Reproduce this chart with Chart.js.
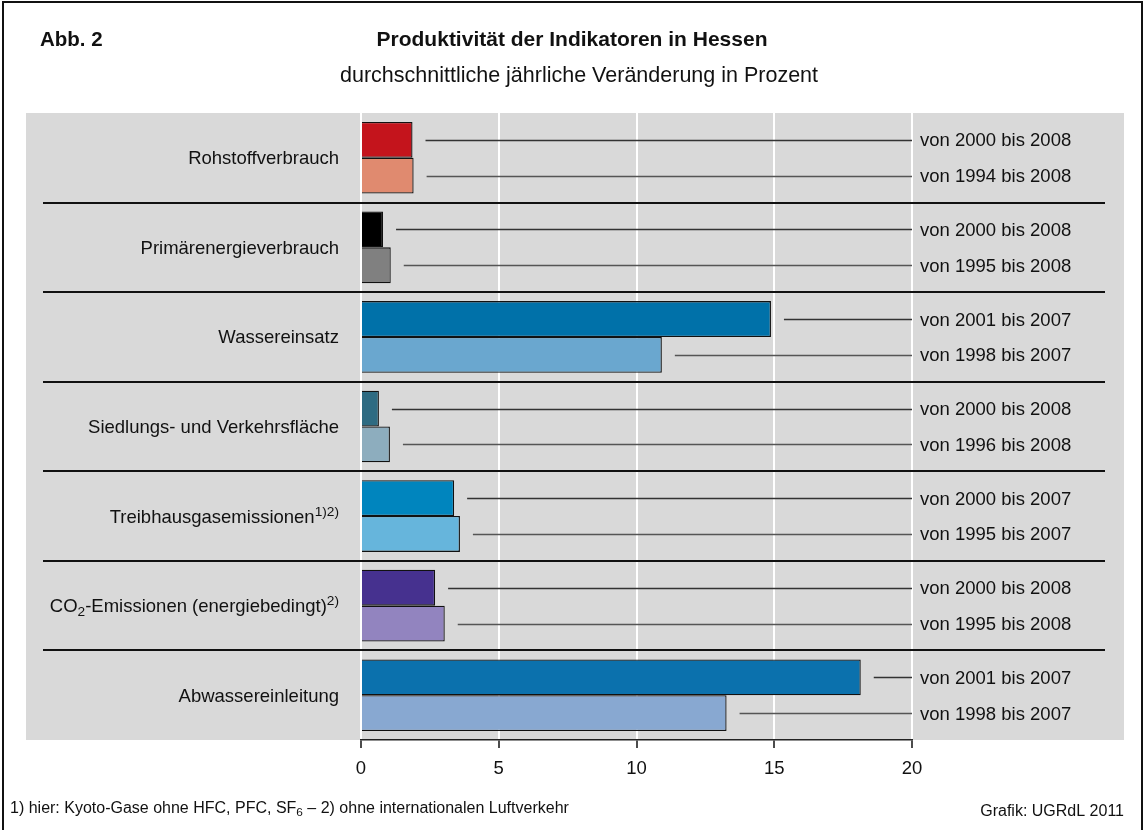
<!DOCTYPE html>
<html lang="de">
<head>
<meta charset="utf-8">
<title>Produktivität der Indikatoren in Hessen</title>
<script src="https://cdn.jsdelivr.net/npm/chart.js@4/dist/chart.umd.min.js"></script>
<style>
  html, body { margin: 0; padding: 0; background: #fff; }
  canvas { display: block; }
</style>
</head>
<body>
<canvas id="chart" width="1145" height="830"></canvas>
<script>
// Indicators; "_{..}" marks a subscript run, "^{..}" a superscript run.
const categories = [
  'Rohstoffverbrauch',
  'Primärenergieverbrauch',
  'Wassereinsatz',
  'Siedlungs- und Verkehrsfläche',
  'Treibhausgasemissionen^{1)2)}',
  'CO_{2}-Emissionen (energiebedingt)^{2)}',
  'Abwassereinleitung'
];

// Shorter (recent) period per indicator and its average yearly change in %
const periodsShort = [
  'von 2000 bis 2008', 'von 2000 bis 2008', 'von 2001 bis 2007', 'von 2000 bis 2008',
  'von 2000 bis 2007', 'von 2000 bis 2008', 'von 2001 bis 2007'
];
const valuesShort = [1.87, 0.80, 14.88, 0.65, 3.38, 2.69, 18.14];

// Longer period per indicator and its average yearly change in %
const periodsLong = [
  'von 1994 bis 2008', 'von 1995 bis 2008', 'von 1998 bis 2007', 'von 1996 bis 2008',
  'von 1995 bis 2007', 'von 1995 bis 2008', 'von 1998 bis 2007'
];
const valuesLong = [1.91, 1.08, 10.92, 1.05, 3.59, 3.04, 13.27];

const colorsShort = ['#C4141C', '#000000', '#0071A9', '#2E6B82', '#0085BE', '#46318F', '#0B71AD'];
const colorsLong  = ['#E08A6F', '#808080', '#6AA7CF', '#8DADBE', '#66B5DC', '#9284BF', '#88A8D1'];

const xTicks = [0, 5, 10, 15, 20];

const figureLabel = 'Abb. 2';
const titleText = 'Produktivität der Indikatoren in Hessen';
const subtitleText = 'durchschnittliche jährliche Veränderung in Prozent';
const footnoteText = '1) hier: Kyoto-Gase ohne HFC, PFC, SF_{6} – 2) ohne internationalen Luftverkehr';
const sourceText = 'Grafik: UGRdL 2011';

const FONT = '"Liberation Sans", Arial, Helvetica, sans-serif';

// Split text with _{..}/^{..} runs into segments
function parseRich(text) {
  const out = [];
  const re = /([_^])\{([^}]*)\}/g;
  let last = 0, m;
  while ((m = re.exec(text)) !== null) {
    if (m.index > last) out.push({ t: text.slice(last, m.index), k: 'n' });
    out.push({ t: m[2], k: m[1] === '_' ? 'sub' : 'sup' });
    last = re.lastIndex;
  }
  if (last < text.length) out.push({ t: text.slice(last), k: 'n' });
  return out;
}

function drawRich(ctx, text, x, baseline, size, align, weight) {
  const segs = parseRich(text);
  const small = size * 0.74;
  const fontFor = s => `${weight || 'normal'} ${s.k === 'n' ? size : small}px ${FONT}`;
  let total = 0;
  segs.forEach(s => { ctx.font = fontFor(s); s.w = ctx.measureText(s.t).width; total += s.w; });
  let cx = align === 'right' ? x - total : align === 'center' ? x - total / 2 : x;
  ctx.textAlign = 'left';
  ctx.textBaseline = 'alphabetic';
  segs.forEach(s => {
    ctx.font = fontFor(s);
    const dy = s.k === 'sup' ? -size * 0.36 : s.k === 'sub' ? size * 0.2 : 0;
    ctx.fillText(s.t, cx, baseline + dy);
    cx += s.w;
  });
}

const decorations = {
  id: 'decorations',
  beforeDraw(chart) {
    const { ctx, chartArea } = chart;
    ctx.save();
    // grey plotting panel
    ctx.fillStyle = '#D9D9D9';
    ctx.fillRect(26, chartArea.top, 1124 - 26, chartArea.bottom - chartArea.top);
    ctx.restore();
  },
  afterDraw(chart) {
    const { ctx } = chart;
    const xs = chart.scales.x;
    const ys = chart.scales.y;
    ctx.save();

    // outer frame
    ctx.strokeStyle = '#111';
    ctx.lineWidth = 2;
    ctx.strokeRect(3, 2, 1139, 900);

    // heading
    ctx.fillStyle = '#111';
    drawRich(ctx, figureLabel, 40, 46, 20.5, 'left', 'bold');
    drawRich(ctx, titleText, 572, 46, 21, 'center', 'bold');
    drawRich(ctx, subtitleText, 579, 82, 21.5, 'center');

    // group separators
    ctx.strokeStyle = '#111';
    ctx.lineWidth = 2;
    for (let i = 0; i < categories.length - 1; i++) {
      const y = Math.round((ys.getPixelForValue(i) + ys.getPixelForValue(i + 1)) / 2);
      ctx.beginPath();
      ctx.moveTo(43, y);
      ctx.lineTo(1105, y);
      ctx.stroke();
    }

    // indicator names
    ctx.fillStyle = '#111';
    categories.forEach((c, i) => {
      const yc = ys.getPixelForValue(i);
      drawRich(ctx, c, 339, yc + 6.5, 18.5, 'right');
    });

    // leader lines and period labels
    const sets = [
      { meta: chart.getDatasetMeta(0), labels: periodsShort, stroke: '#333' },
      { meta: chart.getDatasetMeta(1), labels: periodsLong, stroke: '#555' }
    ];
    sets.forEach(s => {
      s.meta.data.forEach((bar, i) => {
        const y = Math.round(bar.y) + 0.5;
        ctx.strokeStyle = s.stroke;
        ctx.lineWidth = 1.5;
        ctx.beginPath();
        ctx.moveTo(bar.x + 13, y);
        ctx.lineTo(xs.right, y);
        ctx.stroke();
        ctx.fillStyle = '#111';
        drawRich(ctx, s.labels[i], xs.right + 8, bar.y + 6.5, 18.5, 'left');
      });
    });

    // footer
    ctx.fillStyle = '#111';
    drawRich(ctx, footnoteText, 10, 813, 16, 'left');
    drawRich(ctx, sourceText, 1124, 816, 16, 'right');

    ctx.restore();
  }
};

new Chart(document.getElementById('chart'), {
  type: 'bar',
  data: {
    labels: categories,
    datasets: [
      {
        label: 'kürzerer Zeitraum',
        data: valuesShort,
        backgroundColor: colorsShort,
        borderColor: '#111',
        borderWidth: 1.3,
        categoryPercentage: 0.8,
        barPercentage: 1.0
      },
      {
        label: 'längerer Zeitraum',
        data: valuesLong,
        backgroundColor: colorsLong,
        borderColor: '#111',
        borderWidth: 1.3,
        categoryPercentage: 0.8,
        barPercentage: 1.0
      }
    ]
  },
  options: {
    indexAxis: 'y',
    responsive: false,
    animation: false,
    events: [],
    layout: { padding: { left: 361, right: 233, top: 113, bottom: 50 } },
    plugins: {
      legend: { display: false },
      tooltip: { enabled: false }
    },
    scales: {
      x: {
        type: 'linear',
        min: xTicks[0],
        max: xTicks[xTicks.length - 1],
        afterBuildTicks(scale) { scale.ticks = xTicks.map(v => ({ value: v })); },
        afterFit(scale) { scale.height = 40; },
        grid: {
          color: '#FFFFFF',
          lineWidth: 2,
          drawTicks: true,
          tickLength: 8,
          tickColor: '#111',
          tickWidth: 1.5
        },
        border: { display: true, color: '#222', width: 1.5 },
        ticks: {
          color: '#111',
          padding: 10,
          font: { family: FONT, size: 18.5 }
        }
      },
      y: {
        type: 'category',
        display: false
      }
    }
  },
  plugins: [decorations]
});
</script>
</body>
</html>
